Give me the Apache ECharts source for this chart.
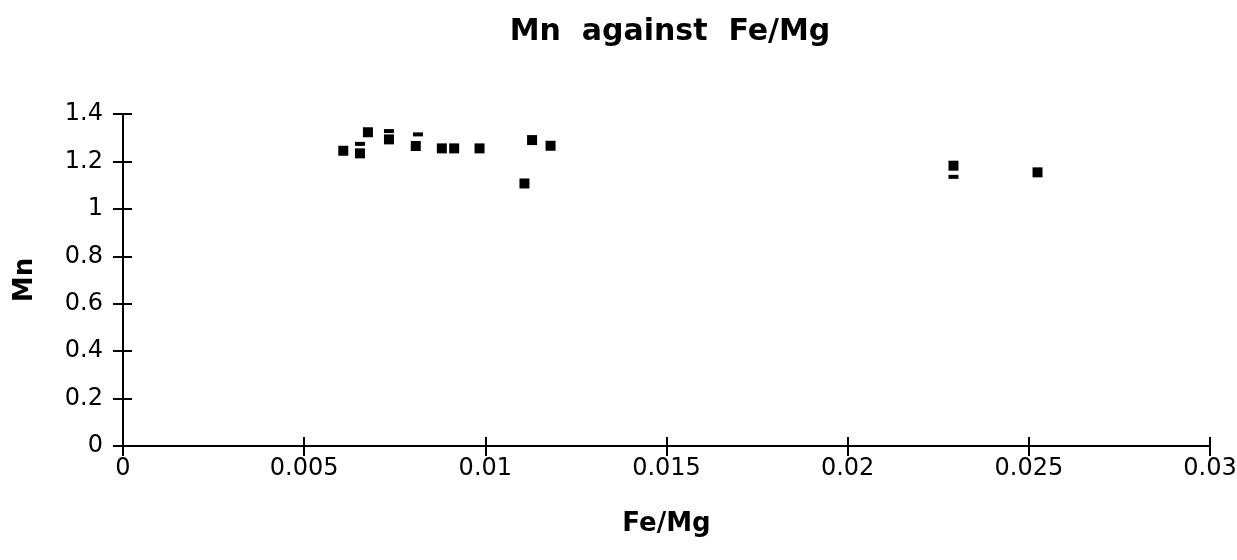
<!DOCTYPE html>
<html>
<head>
<meta charset="utf-8">
<script src="https://cdn.jsdelivr.net/npm/echarts@6/dist/echarts.min.js"></script>
<style>
  html, body { margin: 0; padding: 0; background: #fff; overflow: hidden; }
  #main { width: 1237px; height: 560px; }
</style>
</head>
<body>
<div id="main"></div>
<script>
// Fe/Mg (x) against Mn (y)
var feMg = [0.00608, 0.00654, 0.00676, 0.00734, 0.00808, 0.00880, 0.00914, 0.00984, 0.01129, 0.01180, 0.01108, 0.02292, 0.02524];
var mn   = [1.245, 1.234, 1.323, 1.293, 1.265, 1.255, 1.255, 1.255, 1.290, 1.266, 1.107, 1.182, 1.154];

// marks that only show as a thin bar (partly hidden squares)
var hiddenFeMg = [0.00654, 0.00734, 0.00814, 0.02292];
var hiddenMn   = [1.274, 1.328, 1.314, 1.135];

var xTicks = [0, 0.005, 0.01, 0.015, 0.02, 0.025, 0.03];
var yTicks = [0, 0.2, 0.4, 0.6, 0.8, 1, 1.2, 1.4];

var points = feMg.map(function (v, i) { return [v, mn[i]]; });
var hiddenPoints = hiddenFeMg.map(function (v, i) { return [v, hiddenMn[i]]; });

var chart = echarts.init(document.getElementById('main'));

var labelFont = {
    color: '#000',
    fontFamily: 'DejaVu Sans',
    fontSize: 24
};
var nameFont = {
    color: '#000',
    fontFamily: 'DejaVu Sans',
    fontWeight: 'bold',
    fontSize: 26
};

var option = {
    backgroundColor: '#fff',
    animation: false,
    title: {
        text: 'Mn  against  Fe/Mg',
        left: 665,
        textAlign: 'center',
        top: 12,
        textStyle: {
            color: '#000',
            fontFamily: 'DejaVu Sans',
            fontWeight: 'bold',
            fontSize: 30
        }
    },
    grid: {
        left: 123,
        right: 27,
        top: 114,
        bottom: 114,
        outerBoundsMode: 'none'
    },
    xAxis: [{
        type: 'value',
        min: xTicks[0],
        max: xTicks[xTicks.length - 1],
        interval: 0.005,
        position: 'bottom',
        name: 'Fe/Mg',
        nameLocation: 'middle',
        nameGap: 65,
        nameTextStyle: nameFont,
        splitLine: { show: false },
        axisLine: { onZero: false, lineStyle: { color: '#000', width: 2 } },
        axisTick: { length: 10, lineStyle: { color: '#000', width: 2 } },
        axisLabel: Object.assign({ margin: 11, formatter: function (v) { return String(v); } }, labelFont)
    }, {
        // second copy only for the inner half of the crossing ticks
        type: 'value',
        min: xTicks[0],
        max: xTicks[xTicks.length - 1],
        interval: 0.005,
        position: 'bottom',
        splitLine: { show: false },
        axisLine: { show: false, onZero: false },
        axisTick: { inside: true, length: 9, lineStyle: { color: '#000', width: 2 } },
        axisLabel: { show: false }
    }],
    yAxis: [{
        type: 'value',
        min: yTicks[0],
        max: yTicks[yTicks.length - 1],
        interval: 0.2,
        position: 'left',
        name: 'Mn',
        nameLocation: 'middle',
        nameGap: 85,
        nameRotate: 90,
        nameTextStyle: nameFont,
        splitLine: { show: false },
        axisLine: { onZero: false, lineStyle: { color: '#000', width: 2 } },
        axisTick: { length: 10, lineStyle: { color: '#000', width: 2 } },
        axisLabel: Object.assign({ margin: 20 }, labelFont)
    }, {
        type: 'value',
        min: yTicks[0],
        max: yTicks[yTicks.length - 1],
        interval: 0.2,
        position: 'left',
        splitLine: { show: false },
        axisLine: { show: false, onZero: false },
        axisTick: { inside: true, length: 9, lineStyle: { color: '#000', width: 2 } },
        axisLabel: { show: false }
    }],
    series: [{
        type: 'scatter',
        symbol: 'rect',
        symbolSize: 10,
        itemStyle: { color: '#000', opacity: 1 },
        data: points
    }, {
        type: 'scatter',
        symbol: 'rect',
        symbolSize: [10, 4],
        itemStyle: { color: '#000', opacity: 1 },
        data: hiddenPoints
    }]
};

chart.setOption(option);
</script>
</body>
</html>
